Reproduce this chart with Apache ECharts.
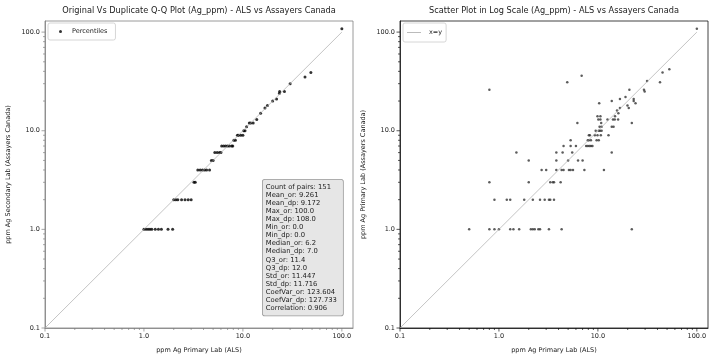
<!DOCTYPE html>
<html><head><meta charset="utf-8">
<script src="https://cdn.jsdelivr.net/npm/echarts@6/dist/echarts.min.js"></script>
<style>html,body{margin:0;padding:0;background:#fff}#c{width:717px;height:359px}</style>
</head><body><div id="c"></div>
<script>
const AXIS_MIN = 0.1, AXIS_MAX = 129.6;
const leftTitle = 'Original Vs Duplicate Q-Q Plot (Ag_ppm) - ALS vs Assayers Canada';
const rightTitle = 'Scatter Plot in Log Scale (Ag_ppm) - ALS vs Assayers Canada';
const xName = 'ppm Ag Primary Lab (ALS)';
const leftYName = 'ppm Ag Secondary Lab (Assayers Canada)';
const rightYName = 'ppm Ag Primary Lab (Assayers Canada)';

const qqOriginal = [1.0,1.05,1.1,1.15,1.2,1.3,1.4,1.5,1.75,1.95, 2.0,2.1,2.2,2.4,2.6,2.8,3.0, 3.2,3.3, 3.5,3.7,3.9,4.1,4.3,4.6, 4.8,5.0, 5.2,5.5,5.8,6.0, 6.1,6.4,6.7,7.0,7.3,7.7,7.9, 8.1,8.4, 8.8,9.0,9.5,10.0, 10.2,10.5, 10.9, 11.6,12.0,12.7, 13.8, 15.1, 16.7,17.7, 20.0,21.9, 23.4,23.5, 26.3, 30.0, 42.4, 48.6, 100.0];
const qqDuplicate = [1,1,1,1,1,1,1,1,1,1, 2,2,2,2,2,2,2, 3,3, 4,4,4,4,4,4, 5,5, 6,6,6,6, 7,7,7,7,7,7,7, 8,8, 9,9,9,9, 10,10, 11, 12,12,12, 13, 15, 17,18, 20,21, 24,25, 25, 30, 35, 39, 108];

const scatterALS = [0.5,0.8,0.9,1.0,1.3,1.4,1.6,2.1,2.2,2.3,2.5,2.6,3.2,4.3,22,
  0.9,1.2,1.3,1.8,2.2,2.6,2.9,3.2,3.3,3.6,
  0.8,2.0,3.3,3.5,3.6,4.2,
  2.7,3.0,3.8,4.3,4.5,5.1,5.3,5.6,7.3,11.5,
  2.0,3.8,5.0,6.3,7.0,
  1.5,3.8,4.4,5.5,13.8,
  4.5,5.3,6.0,7.6,7.9,8.2,8.5,8.8,
  5.3,7.9,8.1,8.5,9.7,10.2,
  8.1,8.3,9.3,9.9,10.7,12.8,
  9.5,10.2,10.5,10.9,
  10.4,10.9,13.8,14.4,
  6.2,10.8,22,
  10.1,10.6,12.5,14.2,14.8,16,
  9.9,10.6,14.9,
  16.1,15.6,16.7,20.5,19.9,10.3,24,13.8,23,16.7,23,19,
  29.7,0.8,20.8,29.2,4.9,42.4,31.4,6.85,45,52.7,100];
const scatterAC = [1,1,1,1,1,1,1,1,1,1,1,1,1,1,1,
  2,2,2,2,2,2,2,2,2,2,
  3,3,3,3,3,3,
  4,4,4,4,4,4,4,4,4,4,
  5,5,5,5,5,
  6,6,6,6,6,
  7,7,7,7,7,7,7,7,
  8,8,8,8,8,8,
  9,9,9,9,9,9,
  10,10,10,10,
  11,11,11,11,
  12,12,12,
  13,13,13,13,13,13,
  14,14,14,
  15,16,17,17,18,19,19,20,20,21,21,22,
  25,26,26,26,31,31,32,36,39,42,108];

const identityEnds = [0.1, 100];
const majorTickValues = [0.1, 1, 10, 100];
const minorTickValues = [0.2,0.3,0.4,0.5,0.6,0.7,0.8,0.9,2,3,4,5,6,7,8,9,20,30,40,50,60,70,80,90];

const statsLines = ['Count of pairs: 151','Mean_or: 9.261','Mean_dp: 9.172','Max_or: 100.0','Max_dp: 108.0','Min_or: 0.0','Min_dp: 0.0','Median_or: 6.2','Median_dp: 7.0','Q3_or: 11.4','Q3_dp: 12.0','Std_or: 11.447','Std_dp: 11.716','CoefVar_or: 123.604','CoefVar_dp: 127.733','Correlation: 0.906'];

const FONT = 'DejaVu Sans';
const panels = [
  {left: 45, frame: '#808080', yName: leftYName, title: leftTitle},
  {left: 400, frame: '#111111', yName: rightYName, title: rightTitle}
];
const GW = 308, GH = 307, GT = 21;

const tickData = majorTickValues.map(v => [v, 3.5]).concat(minorTickValues.map(v => [v, 2]));

function tickSeries(idx, dir, color) {
  return {
    type: 'custom', xAxisIndex: idx, yAxisIndex: idx, silent: true, clip: false, z: 5,
    data: tickData,
    renderItem: function (params, api) {
      const v = api.value(0), len = api.value(1);
      if (dir === 'x') {
        const p = api.coord([v, AXIS_MIN]);
        return {type: 'line', shape: {x1: p[0], y1: p[1], x2: p[0], y2: p[1] + len}, style: {stroke: color, lineWidth: 0.7}};
      }
      const p = api.coord([AXIS_MIN, v]);
      return {type: 'line', shape: {x1: p[0] - len, y1: p[1], x2: p[0], y2: p[1]}, style: {stroke: color, lineWidth: 0.7}};
    }
  };
}

function axisCommon(i, name, gap) {
  return {
    type: 'log', logBase: 10, min: AXIS_MIN, max: AXIS_MAX, gridIndex: i,
    name: name, nameLocation: 'middle', nameGap: gap,
    nameTextStyle: {fontSize: 6.5, color: '#222', fontFamily: FONT},
    axisLine: {show: true, lineStyle: {color: panels[i].frame, width: 0.8}},
    axisTick: {show: false},
    minorTick: {show: false},
    splitLine: {show: false},
    axisLabel: {fontSize: 6.5, color: '#222', fontFamily: FONT, margin: 5, showMaxLabel: false,
      formatter: v => (v > 101 ? '' : Number(v).toFixed(1))}
  };
}

const option = {
  animation: false,
  backgroundColor: '#fff',
  title: panels.map(p => ({text: p.title, left: p.left + GW / 2, top: 7, textAlign: 'center', padding: 0,
    textStyle: {fontSize: 8.2, fontWeight: 'normal', color: '#222', fontFamily: FONT}})),
  grid: panels.map(p => ({left: p.left, top: GT, width: GW, height: GH, show: true, borderColor: p.frame, borderWidth: 0.8, backgroundColor: 'transparent'})),
  xAxis: [axisCommon(0, xName, 19), axisCommon(1, xName, 19)],
  yAxis: [axisCommon(0, leftYName, 33), axisCommon(1, rightYName, 33)],
  legend: [
    {data: ['Percentiles'], left: 48, top: 23, icon: 'circle', itemWidth: 3, itemHeight: 3, selectedMode: false,
     padding: [5, 8, 5, 11], textStyle: {fontSize: 6.5, color: '#222', fontFamily: FONT, padding: [0, 0, 0, 5]},
     borderColor: '#cccccc', borderWidth: 0.8, borderRadius: 2, backgroundColor: '#fff'},
    {data: [{name: 'x=y', icon: 'rect', itemStyle: {color: '#aaaaaa'}}], left: 403, top: 23, itemWidth: 14, itemHeight: 0.8, selectedMode: false,
     padding: [6, 4, 6, 4], textStyle: {fontSize: 6.5, color: '#222', fontFamily: FONT, padding: [0, 0, 0, 3]},
     borderColor: '#cccccc', borderWidth: 0.8, borderRadius: 2, backgroundColor: '#fff'}
  ],
  graphic: [{
    type: 'text', left: 262, top: 179, z: 100,
    style: {text: statsLines.join('\n'), font: '6.8px "DejaVu Sans"', fill: '#222', lineHeight: 8.1,
      backgroundColor: '#e6e6e6', borderColor: '#9a9a9a', borderWidth: 0.8, borderRadius: 2, padding: [3, 6, 3, 3]}
  }],
  series: [
    {name: 'identity', type: 'line', xAxisIndex: 0, yAxisIndex: 0, symbol: 'none', silent: true,
     data: identityEnds.map(v => [v, v]), lineStyle: {color: '#aaaaaa', width: 0.7}},
    {name: 'Percentiles', type: 'scatter', xAxisIndex: 0, yAxisIndex: 0, symbolSize: 3,
     itemStyle: {color: '#000'}, data: qqOriginal.map((v, i) => [v, qqDuplicate[i]])},
    {name: 'x=y', type: 'line', xAxisIndex: 1, yAxisIndex: 1, symbol: 'none', silent: true,
     data: identityEnds.map(v => [v, v]), lineStyle: {color: '#aaaaaa', width: 0.7}, itemStyle: {color: '#aaaaaa'}},
    {name: 'scatter', type: 'scatter', xAxisIndex: 1, yAxisIndex: 1, symbolSize: 2.5,
     itemStyle: {color: '#333'}, data: scatterALS.map((v, i) => [v, scatterAC[i]])},
    tickSeries(0, 'x', panels[0].frame), tickSeries(0, 'y', panels[0].frame),
    tickSeries(1, 'x', panels[1].frame), tickSeries(1, 'y', panels[1].frame)
  ]
};
echarts.init(document.getElementById('c'), null, {renderer: 'canvas'}).setOption(option);
</script></body></html>
